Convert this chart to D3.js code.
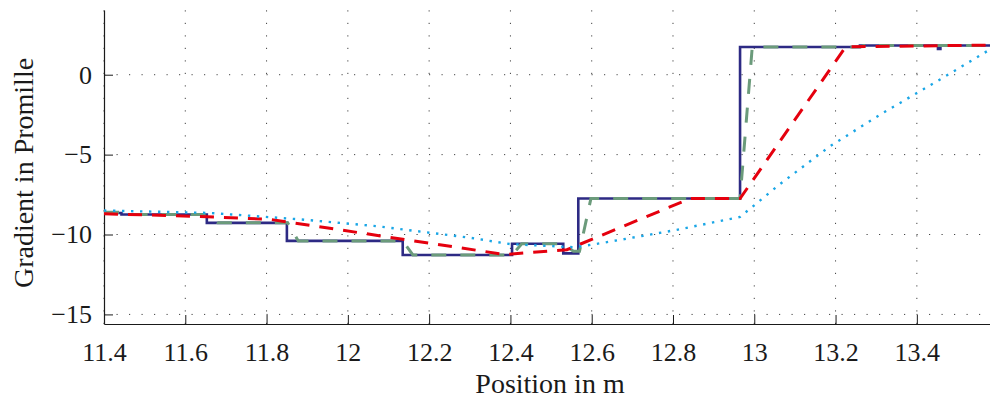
<!DOCTYPE html>
<html>
<head>
  <meta charset="utf-8">
  <script src="https://cdn.jsdelivr.net/npm/d3@7"></script>
  <style>
    body { margin: 0; background: #fff; }
    text { font-family: "Liberation Serif", "Times New Roman", serif; fill: #1a1a1a; }
    .grid line { stroke: #444; stroke-width: 1; stroke-dasharray: 1.2,11.3; }
    path.series { fill: none; }
  </style>
</head>
<body>
<script>
  // tick positions
  var xTicks = [11.4, 11.6, 11.8, 12.0, 12.2, 12.4, 12.6, 12.8, 13.0, 13.2, 13.4];
  var yTicks = [-15, -10, -5, 0];

  // solid navy: step levels (step starts at each x)
  var stepX = [11.400, 11.443, 11.653, 11.850, 12.135, 12.404, 12.530, 12.567, 12.965, 13.260, 13.452, 13.458, 13.580];
  var stepY = [-8.65, -8.75, -9.27, -10.40, -11.28, -10.58, -11.18, -7.75, 1.73, 1.83, 1.62, 1.83, 1.83];

  // green dashed: same steps but ramped
  var greenX = [11.400, 11.443, 11.462, 11.653, 11.680, 11.852, 11.878, 12.135, 12.160, 12.404, 12.428, 12.530, 12.555, 12.570, 12.598, 12.965, 12.995, 13.260, 13.270, 13.580];
  var greenY = [-8.60, -8.60, -8.75, -8.75, -9.27, -9.27, -10.40, -10.40, -11.28, -11.28, -10.58, -10.58, -11.05, -11.05, -7.75, -7.75, 1.73, 1.73, 1.83, 1.83];

  // red dashed
  var redX = [11.400, 11.612, 11.808, 12.386, 12.539, 12.842, 12.965, 13.225, 13.580];
  var redY = [-8.70, -8.85, -9.05, -11.25, -10.95, -7.75, -7.75, 1.75, 1.85];

  // blue dotted
  var blueX = [11.400, 11.661, 11.882, 12.072, 12.300, 12.399, 12.559, 12.628, 12.805, 12.965, 13.063, 13.186, 13.316, 13.449, 13.580];
  var blueY = [-8.50, -8.65, -9.05, -9.48, -10.20, -10.60, -10.80, -10.52, -9.73, -8.90, -6.85, -4.48, -2.40, -0.42, 1.58];

  var W = 990, H = 400;
  var m = { left: 104, right: 990, top: 10, bottom: 324 };

  var svg = d3.select("body").append("svg")
    .attr("width", W).attr("height", H);

  var x = d3.scaleLinear().domain([11.4, 13.58]).range([m.left, m.right]);
  var y = d3.scaleLinear().domain([-15.6, 4.05]).range([m.bottom, m.top]);

  // grid
  var grid = svg.append("g").attr("class", "grid");
  grid.selectAll("line.v").data(xTicks).enter().append("line")
    .attr("x1", function(d) { return x(d); }).attr("x2", function(d) { return x(d); })
    .attr("y1", m.bottom).attr("y2", m.top);
  grid.selectAll("line.h").data(yTicks).enter().append("line")
    .attr("y1", function(d) { return y(d); }).attr("y2", function(d) { return y(d); })
    .attr("x1", m.left).attr("x2", m.right);

  // axes, ticks pointing inwards
  var fmtX = function(d) { return Math.abs(d - Math.round(d)) < 1e-9 ? d3.format("d")(d) : d3.format(".1f")(d); };
  var xAxis = svg.append("g").attr("transform", "translate(0," + m.bottom + ")")
    .call(d3.axisBottom(x).tickValues(xTicks).tickFormat(fmtX).tickSizeInner(-9).tickSizeOuter(0).tickPadding(19));
  var yAxis = svg.append("g").attr("transform", "translate(" + m.left + ",0)")
    .call(d3.axisLeft(y).tickValues(yTicks).tickFormat(d3.format("d")).tickSizeInner(-9).tickSizeOuter(0).tickPadding(12));
  [xAxis, yAxis].forEach(function(a) {
    a.select(".domain").attr("stroke", "#1a1a1a").attr("stroke-width", 1.2);
    a.selectAll(".tick line").attr("stroke", "#1a1a1a").attr("stroke-width", 1);
    a.selectAll(".tick text").style("font-size", "26px").attr("fill", "#1a1a1a");
  });

  function pts(xs, ys) { return xs.map(function(v, i) { return [v, ys[i]]; }); }
  var line = d3.line().x(function(d) { return x(d[0]); }).y(function(d) { return y(d[1]); });
  var stepLine = d3.line().curve(d3.curveStepAfter).x(function(d) { return x(d[0]); }).y(function(d) { return y(d[1]); });

  var plot = svg.append("g");
  plot.append("path").attr("class", "series").attr("d", stepLine(pts(stepX, stepY)))
    .attr("stroke", "#2d2a84").attr("stroke-width", 2.6);
  plot.append("path").attr("class", "series").attr("d", line(pts(greenX, greenY)))
    .attr("stroke", "#6b9b7b").attr("stroke-width", 3).attr("stroke-dasharray", "15,14");
  plot.append("path").attr("class", "series").attr("d", line(pts(redX, redY)))
    .attr("stroke", "#e5000e").attr("stroke-width", 3).attr("stroke-dasharray", "14,10");
  plot.append("path").attr("class", "series").attr("d", line(pts(blueX, blueY)))
    .attr("stroke", "#1aa6e6").attr("stroke-width", 2.4).attr("stroke-dasharray", "2.4,6.6");

  // axis titles
  svg.append("text").attr("x", 550).attr("y", 393)
    .attr("text-anchor", "middle").style("font-size", "28px").text("Position in m");
  svg.append("text").attr("transform", "translate(33,173) rotate(-90)")
    .attr("text-anchor", "middle").style("font-size", "28px").text("Gradient in Promille");
</script>
</body>
</html>
